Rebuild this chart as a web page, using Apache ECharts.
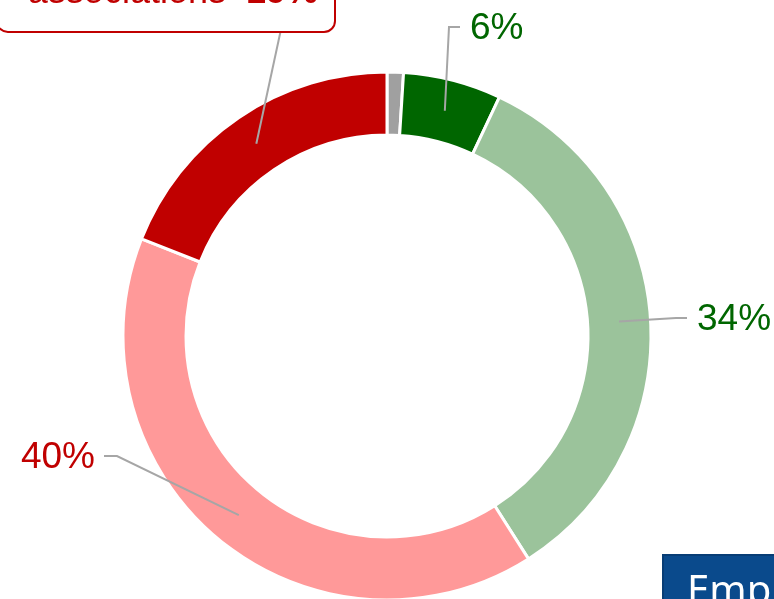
<!DOCTYPE html>
<html><head><meta charset="utf-8">
<script src="https://cdn.jsdelivr.net/npm/echarts@6/dist/echarts.min.js"></script>
<style>html,body{margin:0;padding:0;background:#fff}#c{width:774px;height:599px}</style>
</head><body><div id="c"></div>
<script>
// ---- data ----
const categories = ['Autres', 'Entreprises', 'Collectivités', 'Particuliers', 'associations'];
const values = [1, 6, 34, 40, 19];
const boxTitle = 'Employeurs';

// ---- styles / layout ----
const sliceColors = ['#a0a0a0', '#006600', '#9bc39b', '#ff9999', '#c00000'];
const labelColors = ['#a0a0a0', '#006600', '#006600', '#c00000', '#c00000'];
const CX = 387, CY = 336, R_IN = 201, R_OUT = 264;
const labelPlace = {
  1: {x: 470, y: 29, align: 'left'},
  2: {x: 697, y: 320, align: 'left'},
  3: {x: 95, y: 458, align: 'right'},
  4: {x: 334, y: 31, align: 'right', verticalAlign: 'bottom', end: [283, 20]}
};

const total = values.reduce((a, b) => a + b, 0);
function midPoint(i) {
  let before = 0;
  for (let k = 0; k < i; k++) before += values[k];
  const f = (before + values[i] / 2) / total;
  const th = f * Math.PI * 2;
  const r = (R_IN + R_OUT) / 2;
  return [CX + r * Math.sin(th), CY - r * Math.cos(th)];
}

const sliceData = categories.map((name, i) => ({
  name: name, value: values[i], itemStyle: {color: sliceColors[i]}
}));

const labelData = categories.map((name, i) => {
  const item = {
    name: name,
    value: values[i],
    label: {color: labelColors[i]}
  };
  if (i === 0) {
    item.label = {show: false};
    item.labelLine = {show: false};
  }
  if (i === 4) {
    item.label = {
      formatter: p => '{n|' + p.name + '  }{b|' + p.value + '%}',
      backgroundColor: '#fff',
      borderColor: '#c00000',
      borderWidth: 2,
      borderRadius: 10,
      padding: [10, 16, 18, 30],
      rich: {
        n: {color: '#c00000', fontSize: 36, fontFamily: 'Liberation Sans', lineHeight: 40},
        b: {color: '#c00000', fontSize: 36, fontWeight: 'bold', fontFamily: 'Liberation Sans', lineHeight: 40}
      }
    };
  }
  return item;
});

const chart = echarts.init(document.getElementById('c'));
chart.setOption({
  animation: false,
  backgroundColor: '#fff',
  title: {
    text: boxTitle,
    left: 663, top: 555,
    backgroundColor: '#0a4a8c',
    borderColor: '#083d75',
    borderWidth: 2,
    padding: [18, 20, 14, 24],
    textStyle: {color: '#fff', fontSize: 40, fontWeight: 'normal', fontFamily: 'Noto Sans'}
  },
  series: [{
    type: 'pie',
    z: 2,
    center: [CX, CY],
    radius: [R_IN, R_OUT],
    startAngle: 90,
    clockwise: true,
    silent: true,
    itemStyle: {borderColor: '#fff', borderWidth: 3},
    label: {show: false},
    labelLine: {show: false},
    data: sliceData
  }, {
    type: 'pie',
    z: 5,
    center: [CX, CY],
    radius: [R_IN, R_OUT],
    startAngle: 90,
    clockwise: true,
    silent: true,
    avoidLabelOverlap: false,
    itemStyle: {color: 'rgba(0,0,0,0)', borderWidth: 0},
    label: {
      show: true,
      position: 'outside',
      formatter: p => p.value + '%',
      fontSize: 37,
      fontFamily: 'Liberation Sans'
    },
    labelLine: {show: true, lineStyle: {color: '#a6a6a6', width: 2}},
    labelLayout: function (params) {
      const i = params.dataIndex;
      const pl = labelPlace[i];
      if (!pl) return {};
      const s = midPoint(i);
      let pts;
      if (pl.end) {
        pts = [s, pl.end, pl.end];
      } else if (pl.align === 'left') {
        pts = [s, [pl.x - 21, pl.y - 2], [pl.x - 10, pl.y - 2]];
      } else {
        pts = [s, [pl.x + 22, pl.y - 2], [pl.x + 9, pl.y - 2]];
      }
      return {
        x: pl.x, y: pl.y,
        align: pl.align,
        verticalAlign: pl.verticalAlign || 'middle',
        labelLinePoints: pts
      };
    },
    data: labelData
  }]
});
</script>
</body></html>
